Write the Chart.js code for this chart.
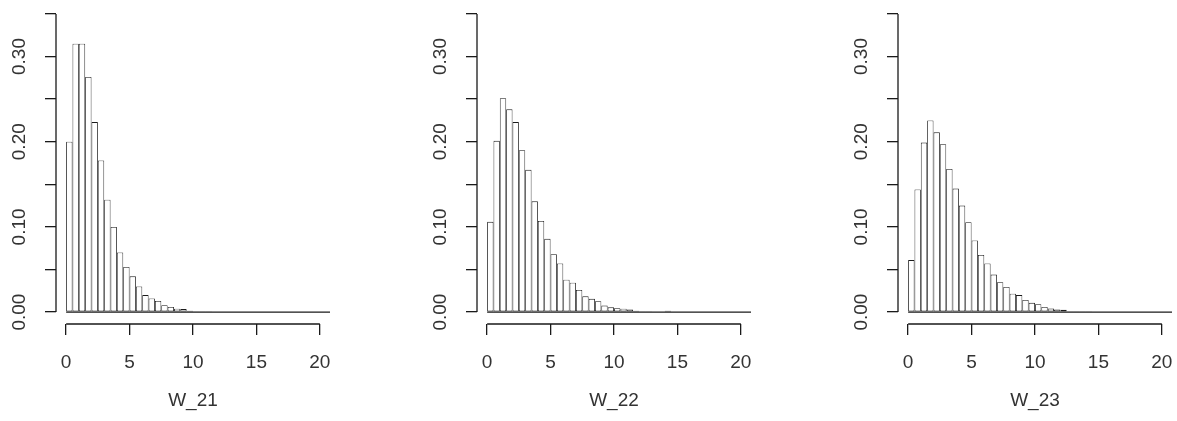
<!DOCTYPE html>
<html>
<head>
<meta charset="UTF-8">
<title>W_21 W_22 W_23</title>
<script src="https://cdn.jsdelivr.net/npm/chart.js"></script>
<style>
  body { margin: 0; background: #fff; }
  #wrap { position: relative; width: 1177px; height: 421px; overflow: hidden; }
  canvas { position: absolute; top: 0; }
</style>
</head>
<body>
<div id="wrap">
  <canvas id="h21" width="330" height="421" style="left:0px"></canvas>
  <canvas id="h22" width="330" height="421" style="left:421px"></canvas>
  <canvas id="h23" width="330" height="421" style="left:842px"></canvas>
</div>
<script>
// histogram densities, bins of width 0.5 starting at 0
const binWidth = 0.5;
const w21 = [0.200, 0.315, 0.315, 0.276, 0.223, 0.178, 0.132, 0.100, 0.070, 0.053,
             0.042, 0.030, 0.020, 0.016, 0.013, 0.008, 0.006, 0.004, 0.0035, 0.0015,
             0.001, 0.001, 0.001];
const w22 = [0.106, 0.201, 0.251, 0.238, 0.223, 0.190, 0.167, 0.130, 0.107, 0.086,
             0.068, 0.057, 0.038, 0.0345, 0.026, 0.0185, 0.0155, 0.0127, 0.0076, 0.0056,
             0.0045, 0.004, 0.003, 0.0015, 0.001, 0.001, 0, 0, 0.0015];
const w23 = [0.061, 0.144, 0.199, 0.225, 0.211, 0.197, 0.168, 0.145, 0.125, 0.1055,
             0.084, 0.067, 0.057, 0.044, 0.035, 0.0295, 0.0216, 0.020, 0.0143, 0.0108,
             0.0092, 0.0061, 0.0041, 0.003, 0.0026, 0.001, 0.001, 0.001, 0.001];
const breaksRange = [0, 21];
const xTicks = [0, 5, 10, 15, 20];
const yTicks = [0, 0.05, 0.10, 0.15, 0.20, 0.25, 0.30, 0.35];
const yLabelled = [0, 0.10, 0.20, 0.30];

const lineColor = '#1a1a1a';
const textColor = '#333';
Chart.defaults.font.family = '"Liberation Sans", Arial, sans-serif';
Chart.defaults.font.size = 19;
Chart.defaults.color = textColor;

// R style axis lines: only from first to last tick
const rAxes = {
  id: 'rAxes',
  afterDraw(chart) {
    const {ctx, chartArea, scales: {x, y}} = chart;
    ctx.save();
    ctx.strokeStyle = lineColor;
    ctx.lineWidth = 1.3;
    ctx.beginPath();
    ctx.moveTo(x.getPixelForValue(x.ticks[0].value), chartArea.bottom);
    ctx.lineTo(x.getPixelForValue(x.ticks[x.ticks.length - 1].value), chartArea.bottom);
    ctx.moveTo(chartArea.left, y.getPixelForValue(y.ticks[0].value));
    ctx.lineTo(chartArea.left, y.getPixelForValue(y.ticks[y.ticks.length - 1].value));
    ctx.stroke();
    ctx.restore();
  }
};

function makeHist(id, values, name) {
  const bars = values.map((v, i) => ({x: (i + 0.5) * binWidth, y: v}));
  new Chart(document.getElementById(id), {
    type: 'bar',
    data: {
      datasets: [
        {
          data: bars,
          backgroundColor: '#fff',
          borderColor: lineColor,
          borderWidth: 0.85,
          borderSkipped: false,
          inflateAmount: 0,
          barPercentage: 1,
          categoryPercentage: 1
        },
        {
          type: 'line',
          data: breaksRange.map(b => ({x: b, y: 0})),
          borderColor: lineColor,
          borderWidth: 1.3,
          pointRadius: 0
        }
      ]
    },
    options: {
      responsive: false,
      devicePixelRatio: 1,
      animation: false,
      layout: {padding: {top: 2, left: 0, right: 0, bottom: 0}},
      plugins: {legend: {display: false}, tooltip: {enabled: false}},
      scales: {
        x: {
          type: 'linear',
          offset: false,
          min: -0.8,
          max: 20.8,
          afterBuildTicks: s => { s.ticks = xTicks.map(v => ({value: v})); },
          afterFit: s => { s.height = 97; s.paddingLeft = 0; s.paddingRight = 0; },
          border: {display: false},
          grid: {offset: false, drawOnChartArea: false, drawTicks: true, tickLength: 11, color: lineColor, lineWidth: 1.3},
          ticks: {autoSkip: false, maxRotation: 0, padding: 16, color: textColor, callback: v => String(v)},
          title: {display: true, text: name, color: textColor, padding: {top: 0, bottom: 9}}
        },
        y: {
          min: -0.014,
          max: 0.364,
          afterBuildTicks: s => { s.ticks = yTicks.map(v => ({value: v})); },
          afterFit: s => { s.width = 56; s.paddingTop = 0; s.paddingBottom = 0; },
          border: {display: false},
          grid: {drawOnChartArea: false, drawTicks: true, tickLength: 11, color: lineColor, lineWidth: 1.3},
          ticks: {
            autoSkip: false, minRotation: 90, crossAlign: 'center', padding: 7, color: textColor,
            callback: v => yLabelled.includes(v) ? v.toFixed(2) : ''
          }
        }
      }
    },
    plugins: [rAxes]
  });
}

makeHist('h21', w21, 'W_21');
makeHist('h22', w22, 'W_22');
makeHist('h23', w23, 'W_23');
</script>
</body>
</html>
